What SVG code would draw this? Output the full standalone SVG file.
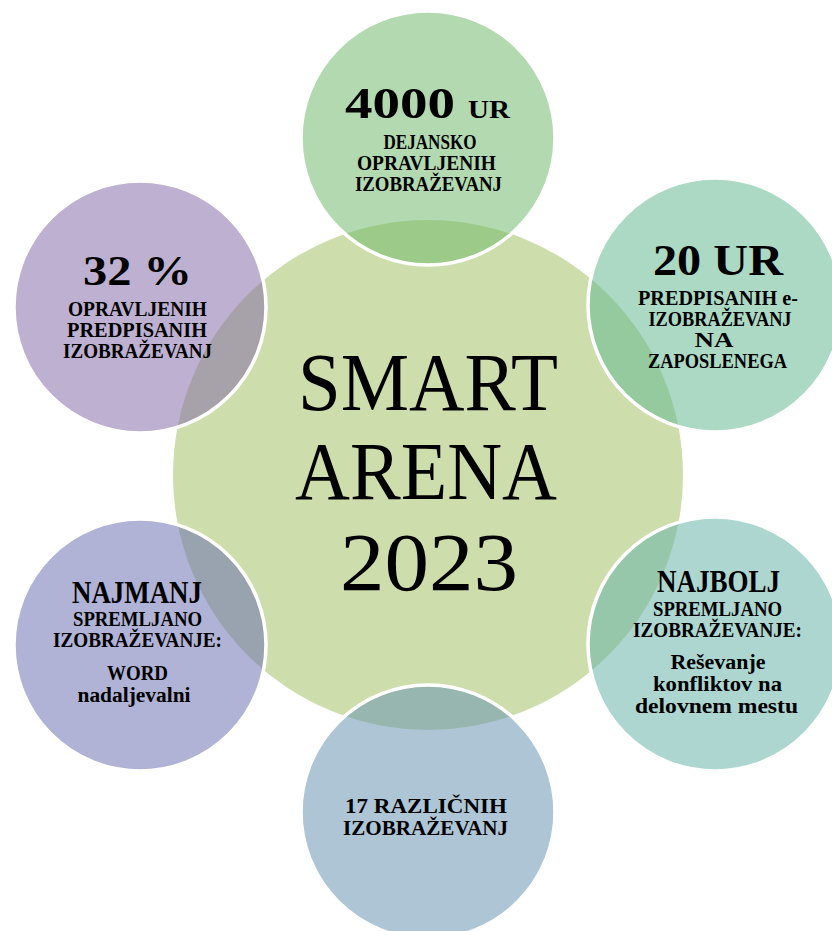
<svg xmlns="http://www.w3.org/2000/svg" width="832" height="931" viewBox="0 0 832 931">
<style>
.bg{fill:#ffffff}
.hub{fill:#CDDDAC}
.sat{stroke:#ffffff;stroke-width:3.5;fill-opacity:0.55}
text{font-family:"Liberation Serif","DejaVu Serif",serif;fill:#000000;text-anchor:middle}
.b{font-weight:bold}
.big{font-size:45px;font-weight:bold}
.sm{font-size:20px;font-weight:bold}
.lc{font-size:20px;font-weight:bold}
.hd{font-size:31px;font-weight:bold}
.title{font-size:83px}
</style>
<rect class="bg" x="0" y="0" width="832" height="931"/>
<g id="hub">
<circle class="hub" cx="428" cy="475" r="255"/>
</g>
<g id="connectors"/>
<g id="node-top">
<circle class="sat" cx="428" cy="138" r="127" fill="#73BA6E"/>
<text class="big" x="345" y="118" style="text-anchor:start" textLength="110" lengthAdjust="spacingAndGlyphs">4000</text>
<text class="b" x="468" y="118" style="text-anchor:start;font-size:25px" textLength="42" lengthAdjust="spacingAndGlyphs">UR</text>
<text class="sm" x="430" y="149" textLength="93" lengthAdjust="spacingAndGlyphs">DEJANSKO</text>
<text class="sm" x="426.5" y="170" textLength="139" lengthAdjust="spacingAndGlyphs">OPRAVLJENIH</text>
<text class="sm" x="428.5" y="191" textLength="147" lengthAdjust="spacingAndGlyphs">IZOBRAŽEVANJ</text>
</g>
<g id="node-top-right">
<circle class="sat" cx="715" cy="305" r="127" fill="#68BA94"/>
<text class="big" x="653" y="275" style="text-anchor:start" textLength="130" lengthAdjust="spacingAndGlyphs">20 UR</text>
<text class="sm" x="718" y="305" textLength="160" lengthAdjust="spacingAndGlyphs">PREDPISANIH e-</text>
<text class="sm" x="720" y="326" textLength="143" lengthAdjust="spacingAndGlyphs">IZOBRAŽEVANJ</text>
<text class="sm" x="714" y="347" textLength="39" lengthAdjust="spacingAndGlyphs">NA</text>
<text class="sm" x="717.5" y="368" textLength="139" lengthAdjust="spacingAndGlyphs">ZAPOSLENEGA</text>
</g>
<g id="node-top-left">
<circle class="sat" cx="140" cy="307" r="126" fill="#896FAA"/>
<text class="b" x="83" y="285" style="text-anchor:start;font-size:42px" textLength="109" lengthAdjust="spacingAndGlyphs">32 %</text>
<text class="sm" x="137.5" y="316" textLength="139" lengthAdjust="spacingAndGlyphs">OPRAVLJENIH</text>
<text class="sm" x="137" y="337" textLength="140" lengthAdjust="spacingAndGlyphs">PREDPISANIH</text>
<text class="sm" x="137.5" y="358" textLength="149" lengthAdjust="spacingAndGlyphs">IZOBRAŽEVANJ</text>
</g>
<g id="node-bottom-left">
<circle class="sat" cx="140" cy="645" r="126" fill="#6F73B4"/>
<text class="hd" x="137" y="603" textLength="130" lengthAdjust="spacingAndGlyphs">NAJMANJ</text>
<text class="sm" x="137.5" y="626" textLength="129" lengthAdjust="spacingAndGlyphs">SPREMLJANO</text>
<text class="sm" x="137.5" y="647" textLength="169" lengthAdjust="spacingAndGlyphs">IZOBRAŽEVANJE:</text>
<text class="lc" x="137.5" y="680" textLength="61" lengthAdjust="spacingAndGlyphs">WORD</text>
<text class="lc" x="134" y="702" textLength="113" lengthAdjust="spacingAndGlyphs">nadaljevalni</text>
</g>
<g id="node-bottom-right">
<circle class="sat" cx="715" cy="644" r="127" fill="#6AB4AA"/>
<text class="hd" x="718.5" y="592" textLength="123" lengthAdjust="spacingAndGlyphs">NAJBOLJ</text>
<text class="sm" x="717.5" y="616" textLength="129" lengthAdjust="spacingAndGlyphs">SPREMLJANO</text>
<text class="sm" x="717.5" y="637" textLength="169" lengthAdjust="spacingAndGlyphs">IZOBRAŽEVANJE:</text>
<text class="lc" x="718" y="669" textLength="95" lengthAdjust="spacingAndGlyphs">Reševanje</text>
<text class="lc" x="717.5" y="691" textLength="129" lengthAdjust="spacingAndGlyphs">konfliktov na</text>
<text class="lc" x="716.5" y="713" textLength="163" lengthAdjust="spacingAndGlyphs">delovnem mestu</text>
</g>
<g id="node-bottom">
<circle class="sat" cx="428" cy="812" r="127" fill="#6C96B4"/>
<text class="b" x="426" y="813" style="font-size:21px" textLength="162" lengthAdjust="spacingAndGlyphs">17 RAZLIČNIH</text>
<text class="b" x="425.5" y="835" style="font-size:21px" textLength="165" lengthAdjust="spacingAndGlyphs">IZOBRAŽEVANJ</text>
</g>
<g id="title">
<text class="title" x="428" y="410" textLength="260" lengthAdjust="spacingAndGlyphs">SMART</text>
<text class="title" x="426" y="499" textLength="262" lengthAdjust="spacingAndGlyphs">ARENA</text>
<text class="title" x="429" y="590" textLength="178" lengthAdjust="spacingAndGlyphs">2023</text>
</g>
</svg>
